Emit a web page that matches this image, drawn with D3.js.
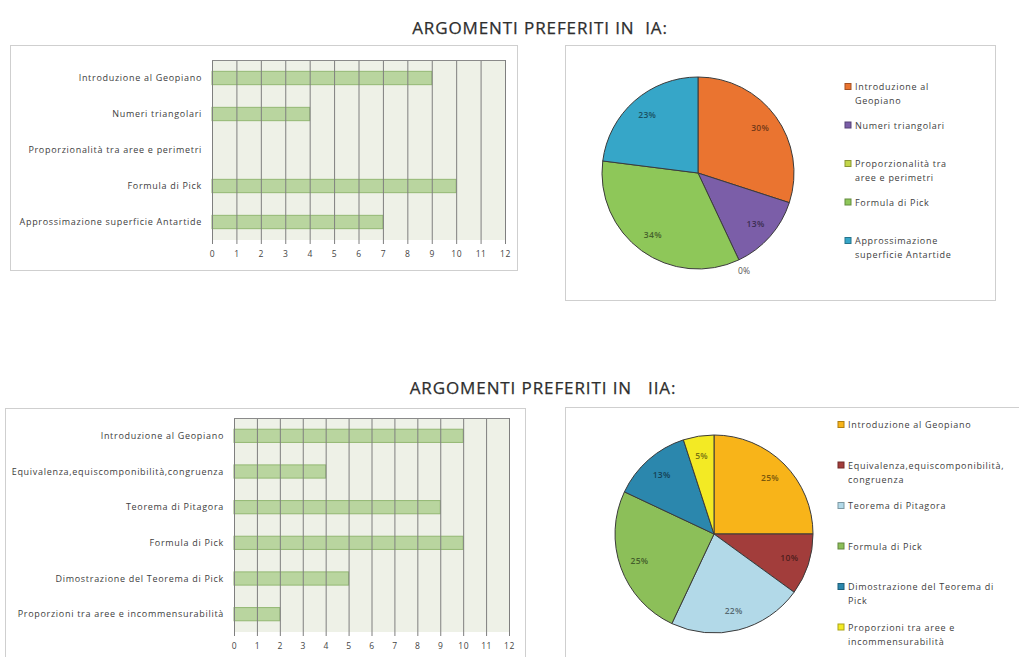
<!DOCTYPE html>
<html>
<head>
<meta charset="utf-8">
<script src="https://cdn.jsdelivr.net/npm/d3@7"></script>
<style>
  html, body { margin: 0; padding: 0; background: #ffffff; }
  svg { display: block; font-family: "Open Sans", "DejaVu Sans", sans-serif; }
</style>
</head>
<body>
<svg id="chart" width="1019" height="657"></svg>
<script>
// ---- Classe IA ----
const titleIA = "ARGOMENTI PREFERITI IN  IA:";
const topicsIA = [
  "Introduzione al Geopiano",
  "Numeri triangolari",
  "Proporzionalità tra aree e perimetri",
  "Formula di Pick",
  "Approssimazione superficie Antartide"
];
const votesIA = [9, 4, 0, 10, 7];
const percentIA = [30, 13, 0, 34, 23];
const legendIA = [
  ["Introduzione al", "Geopiano"],
  ["Numeri triangolari"],
  ["Proporzionalità tra", "aree e perimetri"],
  ["Formula di Pick"],
  ["Approssimazione", "superficie Antartide"]
];
const colorsIA = ["#ea7430", "#7b5ea8", "#c3d64a", "#8ec759", "#36a6c8"];

// ---- Classe IIA ----
const titleIIA = "ARGOMENTI PREFERITI IN   IIA:";
const topicsIIA = [
  "Introduzione al Geopiano",
  "Equivalenza,equiscomponibilità,congruenza",
  "Teorema di Pitagora",
  "Formula di Pick",
  "Dimostrazione del Teorema di Pick",
  "Proporzioni tra aree e incommensurabilità"
];
const votesIIA = [10, 4, 9, 10, 5, 2];
const percentIIA = [25, 10, 22, 25, 13, 5];
const legendIIA = [
  ["Introduzione al Geopiano"],
  ["Equivalenza,equiscomponibilità,", "congruenza"],
  ["Teorema di Pitagora"],
  ["Formula di Pick"],
  ["Dimostrazione del Teorema di", "Pick"],
  ["Proporzioni tra aree e", "incommensurabilità"]
];
const colorsIIA = ["#f8b419", "#a23d3b", "#b2d9e8", "#8cbf59", "#2b87ad", "#f3ea24"];

// shared value axis
const axisTicks = [0, 1, 2, 3, 4, 5, 6, 7, 8, 9, 10, 11, 12];

const svg = d3.select("#chart");

function panelBox(box) {
  svg.append("rect")
    .attr("x", box.x + 0.5).attr("y", box.y + 0.5)
    .attr("width", box.w).attr("height", box.h)
    .attr("fill", "#ffffff").attr("stroke", "#cfcfcf").attr("stroke-width", 1);
}

function title(text, cx, y) {
  svg.append("text")
    .attr("x", cx).attr("y", y)
    .attr("text-anchor", "middle")
    .style("white-space", "pre")
    .attr("font-size", 17)
    .attr("letter-spacing", 0.9)
    .attr("fill", "#2e2e2e")
    .attr("stroke", "#2e2e2e")
    .attr("stroke-width", 0.25)
    .text(text);
}

function barPanel(cfg) {
  panelBox(cfg.box);
  const g = svg.append("g");
  const x = d3.scaleLinear().domain([0, 12]).range([cfg.left, cfg.right]);
  const y = d3.scaleBand().domain(cfg.topics).range([cfg.top, cfg.bottom])
    .paddingInner(0.63).paddingOuter(0.315);
  const H = cfg.bottom - cfg.top;

  g.append("rect")
    .attr("x", x(0)).attr("y", cfg.top)
    .attr("width", x(12) - x(0)).attr("height", H)
    .attr("fill", "#eef1e7");

  g.selectAll("rect.bar")
    .data(cfg.topics.map((t, i) => ({ t, v: cfg.values[i] })))
    .join("rect")
    .attr("class", "bar")
    .attr("x", x(0))
    .attr("y", d => y(d.t))
    .attr("width", d => x(d.v) - x(0))
    .attr("height", y.bandwidth())
    .attr("fill", "#b9d59f")
    .attr("stroke", "#93b873")
    .attr("stroke-width", d => d.v > 0 ? 1 : 0);

  // vertical gridlines + tick marks + labels
  const ax = g.append("g")
    .attr("transform", `translate(0,${cfg.top})`)
    .call(d3.axisBottom(x).tickValues(axisTicks).tickSize(H + 4).tickPadding(7));
  ax.select(".domain").remove();
  ax.selectAll(".tick line").attr("stroke", "#7f7f7f").attr("stroke-width", 1);
  ax.selectAll(".tick text")
    .attr("font-family", "Open Sans, sans-serif")
    .attr("font-size", 8.5).attr("letter-spacing", 0.6).attr("fill", "#444");

  // top border of the plot area
  g.append("line")
    .attr("x1", x(0)).attr("x2", x(12))
    .attr("y1", cfg.top + 0.5).attr("y2", cfg.top + 0.5)
    .attr("stroke", "#8a8a8a");

  // category labels
  g.selectAll("text.cat")
    .data(cfg.topics)
    .join("text")
    .attr("class", "cat")
    .attr("x", x(0) - 10)
    .attr("y", d => y(d) + y.bandwidth() / 2)
    .attr("dy", "0.35em")
    .attr("text-anchor", "end")
    .attr("font-size", 9)
    .attr("letter-spacing", 0.7)
    .attr("fill", "#404040")
    .text(d => d);
}

function piePanel(cfg) {
  panelBox(cfg.box);
  const g = svg.append("g").attr("transform", `translate(${cfg.cx},${cfg.cy})`);
  const data = cfg.percent.map((p, i) => ({ p, c: cfg.colors[i] }));
  const arcs = d3.pie().sort(null).value(d => d.p)(data);
  const arc = d3.arc().innerRadius(0).outerRadius(cfg.r);

  g.selectAll("path")
    .data(arcs.filter(a => a.data.p > 0))
    .join("path")
    .attr("d", arc)
    .attr("fill", d => d.data.c)
    .attr("stroke", "#3b3b3b")
    .attr("stroke-width", 1);

  const inner = d3.arc().innerRadius(cfg.r * 0.8).outerRadius(cfg.r * 0.8);
  const outer = d3.arc().innerRadius(cfg.r * 1.13).outerRadius(cfg.r * 1.13);
  g.selectAll("text")
    .data(arcs)
    .join("text")
    .attr("transform", d => `translate(${(d.data.p > 0 ? inner : outer).centroid(d)})`)
    .attr("text-anchor", "middle")
    .attr("dy", "0.35em")
    .attr("font-size", 8.5)
    .attr("font-weight", d => d.data.p > 0 ? 600 : 400)
    .attr("letter-spacing", 0.3)
    .attr("fill", d => d.data.p > 0 ? d3.color(d.data.c).darker(2).formatHex() : "#555")
    .text(d => d.data.p + "%");

  // legend
  const lg = svg.append("g");
  cfg.legend.forEach((lines, i) => {
    const y0 = cfg.legY + i * cfg.legStep;
    lg.append("rect")
      .attr("x", cfg.legX).attr("y", y0 - 3.5)
      .attr("width", 6).attr("height", 6)
      .attr("fill", cfg.colors[i])
      .attr("stroke", d3.color(cfg.colors[i]).darker(1).formatHex())
      .attr("stroke-width", 1);
    lines.forEach((ln, k) => {
      lg.append("text")
        .attr("x", cfg.legX + 10).attr("y", y0 + k * 14)
        .attr("dy", "0.35em")
        .attr("font-size", 9)
        .attr("letter-spacing", 0.7)
        .attr("fill", "#404040")
        .text(ln);
    });
  });
}

title(titleIA, 540, 34);
barPanel({
  box: { x: 10, y: 45, w: 507, h: 225 },
  left: 212, right: 505, top: 60, bottom: 240,
  topics: topicsIA, values: votesIA
});
piePanel({
  box: { x: 565, y: 45, w: 430, h: 255 },
  cx: 698, cy: 173, r: 96,
  percent: percentIA, colors: colorsIA, legend: legendIA,
  legX: 845, legY: 87, legStep: 38.5
});

title(titleIIA, 543, 394);
barPanel({
  box: { x: 5, y: 408, w: 520, h: 262 },
  left: 234, right: 509, top: 418, bottom: 632,
  topics: topicsIIA, values: votesIIA
});
piePanel({
  box: { x: 565, y: 407, w: 460, h: 262 },
  cx: 714, cy: 534, r: 99,
  percent: percentIIA, colors: colorsIIA, legend: legendIIA,
  legX: 838, legY: 425, legStep: 40.5
});
</script>
</body>
</html>
